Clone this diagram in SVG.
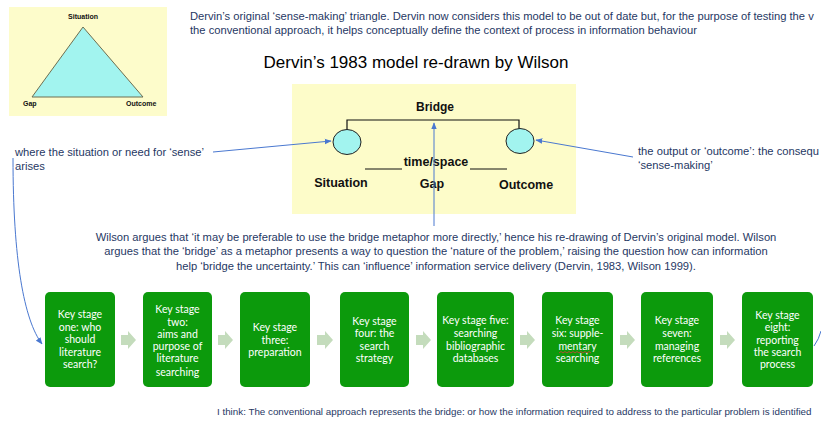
<svg xmlns="http://www.w3.org/2000/svg" width="821" height="423" viewBox="0 0 821 423">
<defs>
<style>
.note{font-family:"Liberation Sans",Arial,sans-serif;font-size:11.2px;fill:#1f3864}
.small{font-size:9.8px}
.lbl{font-family:"Liberation Sans",Arial,sans-serif;font-weight:bold;fill:#111}
.box{fill:#0c9a0c}
.bt{font-family:Lato,"Liberation Sans",sans-serif;font-size:10.5px;fill:#fff;text-anchor:middle}
.step{fill:#c4dcbc}
.conn{fill:none;stroke:#4a78d0;stroke-width:1}
</style>
<marker id="ah" viewBox="0 0 10 10" refX="9" refY="5" markerWidth="7" markerHeight="7" orient="auto-start-reverse">
<path d="M0,1 L10,5 L0,9 z" fill="#4a78d0"/>
</marker>
</defs>
<rect width="821" height="423" fill="#fff"/>

<g id="triangle-panel">
<rect x="9" y="7" width="158" height="109" fill="#fdfccb"/>
<polygon points="83,27 32,97 143,97" fill="#a2f4ef" stroke="#6e6e50" stroke-width="1"/>
<text class="lbl" x="83" y="19" font-size="7" text-anchor="middle">Situation</text>
<text class="lbl" x="23" y="106" font-size="7">Gap</text>
<text class="lbl" x="126" y="106" font-size="7">Outcome</text>
</g>

<g id="intro-text">
<text class="note" x="190" y="20">Dervin’s original ‘sense-making’ triangle. Dervin now considers this model to be out of date but, for the purpose of testing the v</text>
<text class="note" x="190" y="34">the conventional approach, it helps conceptually define the context of process in information behaviour</text>
</g>

<g id="title">
<text x="416" y="68" font-family="Liberation Sans,Arial,sans-serif" font-size="17" fill="#000" text-anchor="middle">Dervin’s 1983 model re-drawn by Wilson</text>
</g>

<g id="bridge-panel">
<rect x="292" y="84" width="284" height="130" fill="#fdfcc9"/>
<text class="lbl" x="435" y="111" font-size="12" text-anchor="middle">Bridge</text>
<path d="M347,131 V120 H519 V131" fill="none" stroke="#111" stroke-width="1.2"/>
<ellipse cx="347" cy="142" rx="14" ry="12.5" fill="#a2f4ef" stroke="#222" stroke-width="1"/>
<ellipse cx="520" cy="141" rx="14" ry="12.5" fill="#a2f4ef" stroke="#222" stroke-width="1"/>
<line x1="365" y1="169" x2="402" y2="169" stroke="#111" stroke-width="1"/>
<line x1="470" y1="169" x2="507" y2="169" stroke="#111" stroke-width="1"/>
<text class="lbl" x="436" y="166" font-size="12.5" text-anchor="middle">time/space</text>
<text class="lbl" x="341" y="187" font-size="12.5" text-anchor="middle">Situation</text>
<text class="lbl" x="432" y="188" font-size="12.5" text-anchor="middle">Gap</text>
<text class="lbl" x="526" y="189" font-size="12.5" text-anchor="middle">Outcome</text>
</g>

<g id="situation-note">
<text class="note" x="15" y="156">where the situation or need for ‘sense’</text>
<text class="note" x="15" y="170">arises</text>
</g>

<g id="outcome-note">
<text class="note" x="638" y="155">the output or ‘outcome’: the consequ</text>
<text class="note" x="638" y="169">‘sense-making’</text>
</g>

<g id="wilson-text">
<text class="note" x="436" y="241" text-anchor="middle">Wilson argues that ‘it may be preferable to use the bridge metaphor more directly,’ hence his re-drawing of Dervin’s original model. Wilson</text>
<text class="note" x="436" y="255" text-anchor="middle">argues that the ‘bridge’ as a metaphor presents a way to question the ‘nature of the problem,’ raising the question how can information</text>
<text class="note" x="436" y="270" text-anchor="middle">help ‘bridge the uncertainty.’ This can ‘influence’ information service delivery (Dervin, 1983, Wilson 1999).</text>
</g>

<g id="connectors">
<line class="conn" x1="213" y1="152" x2="331" y2="141" marker-end="url(#ah)"/>
<line class="conn" x1="633" y1="157" x2="536" y2="140" marker-end="url(#ah)"/>
<line class="conn" x1="434" y1="226" x2="434" y2="123" marker-end="url(#ah)"/>
<path class="conn" d="M13,158 C13,260 24,320 42,344" marker-end="url(#ah)"/>
<path class="conn" d="M821,331 Q819,339 814,346"/>
<path class="step" d="M121,335 H128 V331 L136,340 L128,349 V345 H121 z"/>
<path class="step" d="M218,335 H225 V331 L233,340 L225,349 V345 H218 z"/>
<path class="step" d="M317,335 H325 V331 L333,340 L325,349 V345 H317 z"/>
<path class="step" d="M416,335 H423 V331 L431,340 L423,349 V345 H416 z"/>
<path class="step" d="M520,335 H527 V331 L535,340 L527,349 V345 H520 z"/>
<path class="step" d="M620,335 H627 V331 L635,340 L627,349 V345 H620 z"/>
<path class="step" d="M720,335 H727 V331 L735,340 L727,349 V345 H720 z"/>
</g>

<g id="stage1">
<rect class="box" x="45" y="292" width="70" height="95" rx="5"/>
<text class="bt" x="80" y="318">Key stage</text>
<text class="bt" x="80" y="331">one: who</text>
<text class="bt" x="80" y="343">should</text>
<text class="bt" x="80" y="356">literature</text>
<text class="bt" x="80" y="368">search?</text>
</g>
<g id="stage2">
<rect class="box" x="143" y="292" width="69" height="95" rx="5"/>
<text class="bt" x="177.5" y="313">Key stage</text>
<text class="bt" x="177.5" y="326">two:</text>
<text class="bt" x="177.5" y="338">aims and</text>
<text class="bt" x="177.5" y="350">purpose of</text>
<text class="bt" x="177.5" y="362">literature</text>
<text class="bt" x="177.5" y="376">searching</text>
</g>
<g id="stage3">
<rect class="box" x="240" y="292" width="70" height="95" rx="5"/>
<text class="bt" x="275" y="331">Key stage</text>
<text class="bt" x="275" y="344">three:</text>
<text class="bt" x="275" y="356">preparation</text>
</g>
<g id="stage4">
<rect class="box" x="340" y="292" width="69" height="95" rx="5"/>
<text class="bt" x="374.5" y="325">Key stage</text>
<text class="bt" x="374.5" y="337">four: the</text>
<text class="bt" x="374.5" y="350">search</text>
<text class="bt" x="374.5" y="362">strategy</text>
</g>
<g id="stage5">
<rect class="box" x="437" y="292" width="77" height="95" rx="5"/>
<text class="bt" x="475.5" y="324">Key stage five:</text>
<text class="bt" x="475.5" y="337">searching</text>
<text class="bt" x="475.5" y="350">bibliographic</text>
<text class="bt" x="475.5" y="362">databases</text>
</g>
<g id="stage6">
<rect class="box" x="542" y="292" width="71" height="95" rx="5"/>
<text class="bt" x="577.5" y="324">Key stage</text>
<text class="bt" x="577.5" y="337">six: supple-</text>
<text class="bt" x="577.5" y="350">mentary</text>
<path d="M559,353 l2,-1.5 l2,1.5 l2,-1.5 l2,1.5 l2,-1.5 l2,1.5 l2,-1.5 l2,1.5 l2,-1.5 l2,1.5 l2,-1.5 l2,1.5 l2,-1.5 l2,1.5 l2,-1.5 l2,1.5" fill="none" stroke="#d83a3a" stroke-width="0.8"/>
<text class="bt" x="577.5" y="362">searching</text>
</g>
<g id="stage7">
<rect class="box" x="641" y="292" width="72" height="95" rx="5"/>
<text class="bt" x="677" y="324">Key stage</text>
<text class="bt" x="677" y="337">seven:</text>
<text class="bt" x="677" y="350">managing</text>
<text class="bt" x="677" y="362">references</text>
</g>
<g id="stage8">
<rect class="box" x="742" y="292" width="71" height="95" rx="5"/>
<text class="bt" x="777.5" y="319">Key stage</text>
<text class="bt" x="777.5" y="331">eight:</text>
<text class="bt" x="777.5" y="344">reporting</text>
<text class="bt" x="777.5" y="356">the search</text>
<text class="bt" x="777.5" y="368">process</text>
</g>

<g id="conclusion">
<text class="note small" x="217" y="415">I think: The conventional approach represents the bridge: or how the information required to address to the particular problem is identified</text>
</g>
</svg>
